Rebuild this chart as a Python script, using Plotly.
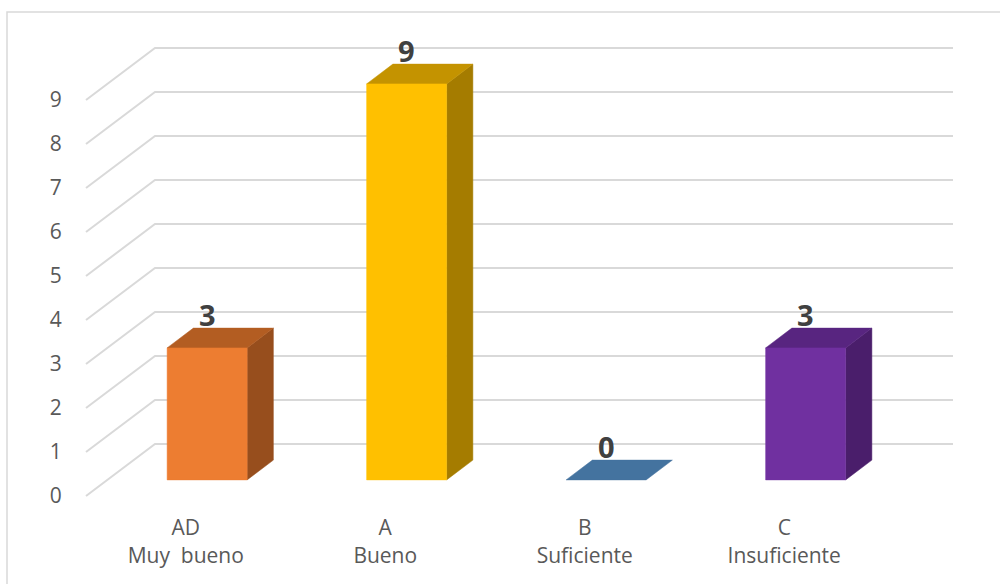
import plotly.graph_objects as go

# --- data ---
categories = ["AD<br>Muy  bueno", "A<br>Bueno", "B<br>Suficiente", "C<br>Insuficiente"]
values = [3, 9, 0, 3]
y_ticks = list(range(0, 10))

front_colors = ["#ED7D31", "#FFC000", "#4472C4", "#7030A0"]
top_colors = ["#B35D22", "#C49300", "#44739F", "#582580"]
side_colors = ["#974E1D", "#A57C00", "#2F5597", "#4A1E6B"]

# --- oblique projection of the 3D box (depth z in 0..1) ---
DX = 69 / 199.5      # x shift (category units) per unit depth
DY = 52 / 44         # y shift (value units) per unit depth
HW = 0.2005          # half width of a column
ZF, ZB = 0.31, 0.69  # front / back depth of the columns


def proj(c, v, z):
    return c + DX * z, v + DY * z


def poly(points):
    xs, ys = zip(*[proj(*p) for p in points])
    return list(xs) + [xs[0]], list(ys) + [ys[0]]


fig = go.Figure()

grid_color = "#D9D9D9"
n = len(categories)

# gridlines: diagonal on the side wall, horizontal on the back wall
for v in y_ticks:
    pts = [proj(0, v, 0), proj(0, v, 1), proj(n, v, 1)]
    fig.add_trace(go.Scatter(
        x=[p[0] for p in pts], y=[p[1] for p in pts], mode="lines",
        line=dict(color=grid_color, width=2), hoverinfo="skip", showlegend=False))

# columns
for i, v in enumerate(values):
    c = i + 0.5
    faces = [
        (side_colors[i], [(c + HW, 0, ZF), (c + HW, 0, ZB), (c + HW, v, ZB), (c + HW, v, ZF)]),
        (top_colors[i], [(c - HW, v, ZF), (c + HW, v, ZF), (c + HW, v, ZB), (c - HW, v, ZB)]),
        (front_colors[i], [(c - HW, 0, ZF), (c + HW, 0, ZF), (c + HW, v, ZF), (c - HW, v, ZF)]),
    ]
    for col, pts in faces:
        if v == 0 and col != top_colors[i]:
            continue
        xs, ys = poly(pts)
        fig.add_trace(go.Scatter(
            x=xs, y=ys, mode="lines", fill="toself", fillcolor=col,
            line=dict(color=col, width=0.5), hoverinfo="skip", showlegend=False))
    lx, ly = proj(c, v, ZF)
    fig.add_annotation(
        x=lx, y=ly, text=f"<b>{v}</b>", showarrow=False, yshift=33,
        font=dict(family="Open Sans", size=29, color="#404040"))

# --- layout (pixel geometry of the plot area) ---
L, R, T, B = 70, 30, 30, 84
W, H = 1000, 584
PX0, PY0, SX, SY = 86, 496, 199.5, 44


def x_at(px):
    return (px - PX0) / SX


def y_at(py):
    return (PY0 - py) / SY


plot_w = W - L - R
plot_h = H - T - B

fig.update_layout(
    width=W, height=H,
    margin=dict(l=L, r=R, t=T, b=B),
    paper_bgcolor="white", plot_bgcolor="white",
    font=dict(family="Open Sans", size=21, color="#595959"),
    xaxis=dict(
        range=[x_at(L), x_at(W - R)],
        tickvals=[i + 0.5 for i in range(n)], ticktext=categories,
        showgrid=False, zeroline=False, showline=False,
        ticks="outside", ticklen=9, tickcolor="rgba(0,0,0,0)",
        tickfont=dict(family="Open Sans", size=21, color="#595959"),
        fixedrange=True,
    ),
    yaxis=dict(
        range=[y_at(H - B), y_at(T)],
        tickvals=y_ticks, ticktext=[str(t) for t in y_ticks],
        showgrid=False, zeroline=False, showline=False,
        ticks="outside", ticklen=3, tickcolor="rgba(0,0,0,0)",
        tickfont=dict(family="Open Sans", size=21, color="#595959"),
        fixedrange=True,
    ),
    shapes=[dict(
        type="rect", xref="paper", yref="paper",
        x0=(7 - L) / plot_w, x1=(1005 - L) / plot_w,
        y0=((H - B) - 590) / plot_h, y1=((H - B) - 12) / plot_h,
        line=dict(color="#D9D9D9", width=1.5), layer="below")],
)

fig.write_html("out.html")
